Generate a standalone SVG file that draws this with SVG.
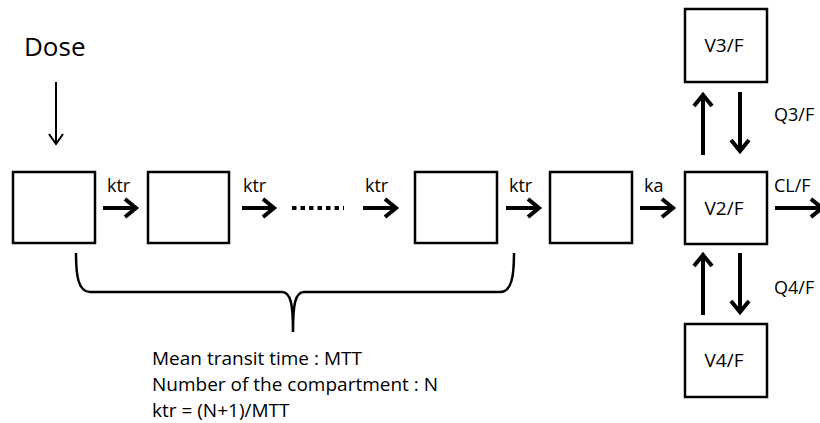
<svg xmlns="http://www.w3.org/2000/svg" width="820" height="423" viewBox="0 0 820 423">
<style>
.box{fill:#fff;stroke:#000;stroke-width:2.5}
.t{font-family:"Open Sans","Liberation Sans",sans-serif;fill:#000}
.lbl{font-size:18px}
.thick{stroke:#000;stroke-width:4;fill:none;marker-end:url(#hk)}
.thin{stroke:#000;stroke-width:2;fill:none;marker-end:url(#hn)}
</style>
<defs>
<marker id="hk" markerUnits="userSpaceOnUse" viewBox="-16 -12 20 24" refX="0" refY="0" markerWidth="20" markerHeight="24" orient="auto" overflow="visible">
<path d="M-11-9L0 0L-11 9" fill="none" stroke="#000" stroke-width="4"/>
</marker>
<marker id="hn" markerUnits="userSpaceOnUse" viewBox="-12 -10 16 20" refX="0" refY="0" markerWidth="16" markerHeight="20" orient="auto" overflow="visible">
<path d="M-10-7L0 0L-10 7" fill="none" stroke="#000" stroke-width="2"/>
</marker>
</defs>
<rect width="820" height="423" fill="#fff"/>
<text class="t" x="24" y="56" font-size="26">Dose</text>
<g id="c1"><rect class="box" x="13" y="172" width="82" height="71"/></g>
<g id="c2"><rect class="box" x="148" y="172" width="81" height="71"/></g>
<g id="c3"><rect class="box" x="415" y="172" width="82" height="71"/></g>
<g id="c4"><rect class="box" x="550" y="172" width="82" height="71"/></g>
<g id="v2"><rect class="box" x="685" y="172" width="82" height="72"/><text class="t" x="724" y="215" font-size="19" text-anchor="middle">V2/F</text></g>
<g id="v3"><rect class="box" x="685" y="9" width="82" height="73"/><text class="t" x="724" y="52" font-size="19" text-anchor="middle">V3/F</text></g>
<g id="v4"><rect class="box" x="685" y="324" width="82" height="73"/><text class="t" x="724" y="367" font-size="19" text-anchor="middle">V4/F</text></g>
<g id="connectors">
<line class="thin" x1="56" y1="82" x2="56" y2="144"/>
<line class="thick" x1="103" y1="208" x2="136" y2="208"/>
<line class="thick" x1="242" y1="208" x2="274" y2="208"/>
<line x1="292" y1="208" x2="344" y2="208" stroke="#000" stroke-width="4" stroke-dasharray="4.5 4"/>
<line class="thick" x1="363" y1="208" x2="396" y2="208"/>
<line class="thick" x1="506" y1="208" x2="539" y2="208"/>
<line class="thick" x1="640" y1="208" x2="673" y2="208"/>
<line class="thick" x1="775" y1="208" x2="822" y2="208"/>
<line class="thick" x1="703" y1="155" x2="703" y2="95"/>
<line class="thick" x1="740" y1="92" x2="740" y2="151"/>
<line class="thick" x1="703" y1="315" x2="703" y2="255"/>
<line class="thick" x1="740" y1="253" x2="740" y2="312"/>
<path d="M76 253C76 275 78 292 90 292H282C291 292 293 305 293 332C293 305 295 292 304 292H500C512 292 514 275 514 253" fill="none" stroke="#000" stroke-width="2.5"/>
</g>
<g class="t lbl">
<text x="107" y="192">ktr</text>
<text x="243" y="192">ktr</text>
<text x="365" y="192">ktr</text>
<text x="509" y="192">ktr</text>
<text x="644" y="192">ka</text>
<text x="774" y="192">CL/F</text>
<text x="774" y="121">Q3/F</text>
<text x="774" y="294">Q4/F</text>
</g>
<g class="t" font-size="19">
<text x="152" y="365">Mean transit time : MTT</text>
<text x="152" y="391">Number of the compartment : N</text>
<text x="152" y="417">ktr = (N+1)/MTT</text>
</g>
</svg>
